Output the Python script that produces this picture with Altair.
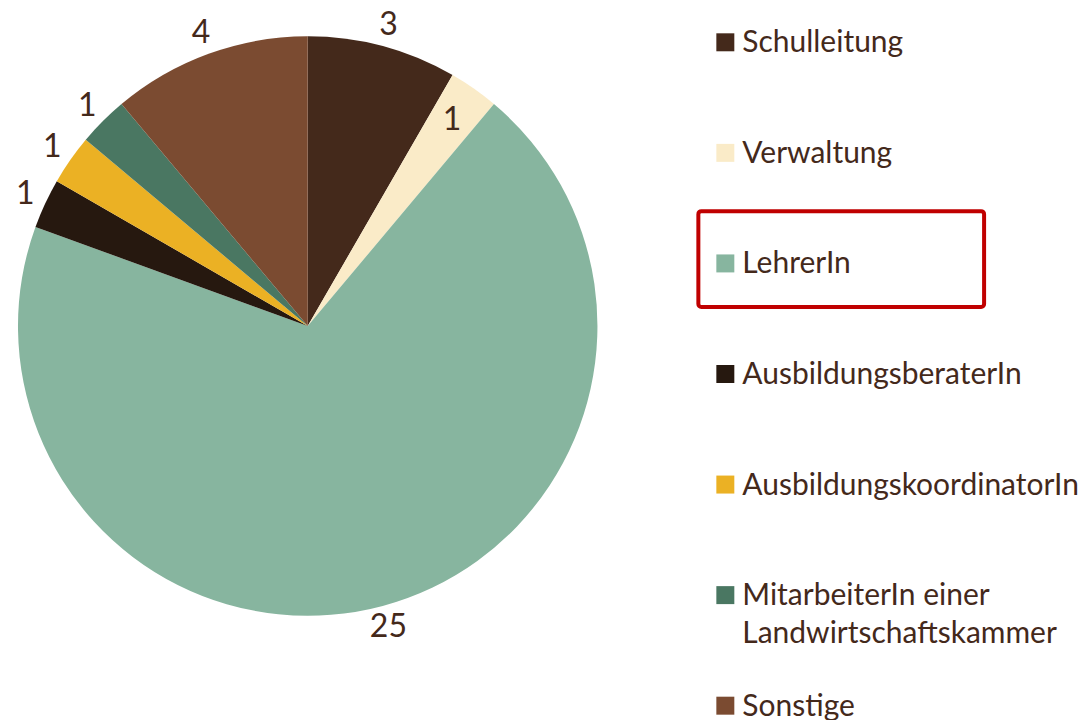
import altair as alt
import pandas as pd

categories = ["Schulleitung", "Verwaltung", "LehrerIn", "AusbildungsberaterIn",
              "AusbildungskoordinatorIn", "MitarbeiterIn einer Landwirtschaftskammer", "Sonstige"]
legend_labels = ["Schulleitung", "Verwaltung", "LehrerIn", "AusbildungsberaterIn",
                 "AusbildungskoordinatorIn", "MitarbeiterIn einer\nLandwirtschaftskammer", "Sonstige"]
values = [3, 1, 25, 1, 1, 1, 4]
colors = ["#44291b", "#faebc8", "#87b59f", "#26180f", "#ebb124", "#4a7762", "#7b4b31"]

TEXT = "#44291b"
FONT = "Lato"

df = pd.DataFrame({
    "cat": categories,
    "label": legend_labels,
    "value": values,
    "idx": list(range(len(categories))),
})

color_scale = alt.Scale(domain=categories, range=colors)

arcs = alt.Chart(df).mark_arc(outerRadius=290, strokeWidth=0).encode(
    theta=alt.Theta("value:Q", stack=True),
    order=alt.Order("idx:Q"),
    color=alt.Color("cat:N", scale=color_scale, legend=None),
)

labels = alt.Chart(df).transform_window(
    cum="sum(value)", sort=[alt.SortField("idx")], frame=[None, 0]
).transform_joinaggregate(
    total="sum(value)"
).transform_calculate(
    ang="(datum.cum - datum.value / 2) / datum.total * 2 * PI",
    r="datum.cat == 'Verwaltung' ? 252 : 312",
).mark_text(fontSize=32, font=FONT, color=TEXT).encode(
    theta=alt.Theta("ang:Q", scale=None, stack=None),
    radius=alt.Radius("r:Q", scale=None),
    text=alt.Text("value:Q"),
)

pie = alt.layer(arcs, labels).resolve_scale(theta="independent").properties(width=600, height=632)

ypos = alt.Y("cat:N", sort=categories, axis=None,
             scale=alt.Scale(type="point", range=[32, 696], padding=0))

leg_base = alt.Chart(df)

symbols = leg_base.mark_point(shape="square", size=324, filled=True, opacity=1).encode(
    x=alt.value(36),
    y=ypos,
    color=alt.Color("cat:N", scale=color_scale, legend=None),
)

leg_text = leg_base.mark_text(align="left", baseline="alphabetic", dy=10, fontSize=30,
                              font=FONT, color=TEXT, lineBreak="\n", lineHeight=38).encode(
    x=alt.value(53),
    y=ypos,
    text="label:N",
)

highlight = alt.Chart(pd.DataFrame({"a": [0]})).mark_rect(
    fillOpacity=0, stroke="#c00000", strokeWidth=4, cornerRadius=3
).encode(
    x=alt.value(9), x2=alt.value(295), y=alt.value(201), y2=alt.value(297)
)

legend = alt.layer(symbols, leg_text, highlight).properties(width=395, height=704)

chart = alt.hconcat(pie, legend, spacing=82).properties(padding=0).configure_view(stroke=None)

chart.save("out.html", embed_options={"renderer": "svg", "actions": False})
